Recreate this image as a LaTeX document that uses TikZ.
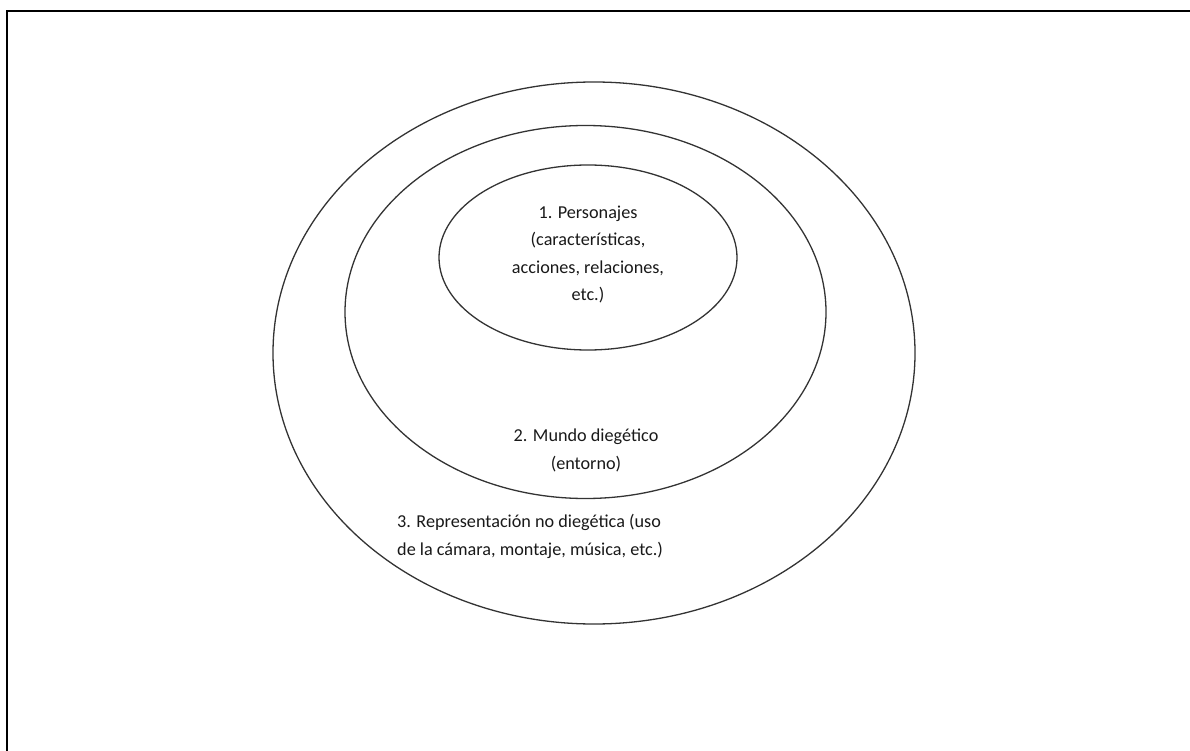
\documentclass[tikz,border=0pt]{standalone}
\usepackage{fontspec}
\setmainfont{Carlito}
\usetikzlibrary{shapes.geometric}
\begin{document}
\begin{tikzpicture}[x=1pt,y=-1pt,
  ring/.style={draw=black!80, line width=1.3pt, ellipse, inner sep=0pt},
  label/.style={font=\fontsize{18.2}{27.5}\selectfont, text=black!90, inner sep=0pt},
  frame/.style={draw=black, line width=2pt}]
  \useasboundingbox (0,0) rectangle (1190,751);
  % page frame: top rule and left rule
  \coordinate (tl) at (7,11);
  \coordinate (bl) at (7,751);
  \coordinate (tm) at (985,11);
  \coordinate (tn) at (1007,11);
  \coordinate (tr) at (1190,11);
  \draw[frame, line cap=rect] (bl) -- (tl) -- (tm);
  \draw[draw=black, line width=1.2pt] (tm) -- (tn);
  \draw[frame] (tn) -- (tr);
  % nested ellipses
  \node[ring, minimum width=642pt, minimum height=542pt] (outer) at (594,353) {};
  \node[ring, minimum width=481pt, minimum height=373pt] (middle) at (585.5,312) {};
  \node[ring, minimum width=298pt, minimum height=185pt] (inner) at (588,257.5) {};
  % texts
  \node[label, align=center] (t1) at (588,254.5) {1. Personajes\\(características,\\acciones, relaciones,\\etc.)};
  \node[label, align=center] (t2) at (586,450.5) {2. Mundo diegético\\(entorno)};
  \node[label, align=left, anchor=west] (t3) at (397,536.5) {3. Representación no diegética (uso\\de la cámara, montaje, música, etc.)};
\end{tikzpicture}
\end{document}
